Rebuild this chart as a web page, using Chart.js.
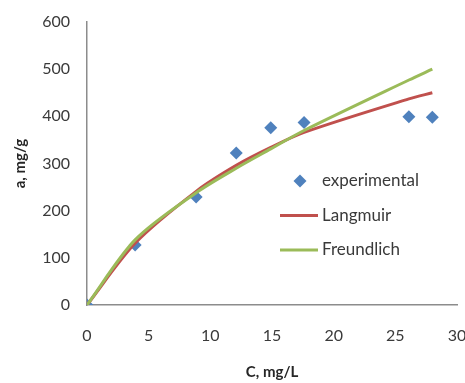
<!DOCTYPE html>
<html>
<head>
<meta charset="utf-8">
<script src="https://cdn.jsdelivr.net/npm/chart.js@4"></script>
<style>
  html, body { margin: 0; padding: 0; background: #fff; }
  #wrap { width: 465px; height: 383px; position: relative; }
</style>
</head>
<body>
<div id="wrap"><canvas id="chart"></canvas></div>
<script>
// concentration C, mg/L (x values)
const concentration = [0, 3.9, 8.85, 12.1, 14.9, 17.6, 26.1, 28.0];
const experimental = [0, 127, 229, 322, 376, 387, 399, 398];
const langmuir = [0, 131, 241, 296, 334, 366, 437, 450];
const freundlich = [0, 138, 238, 290, 331, 370, 477, 500];

const xTicks = [0, 5, 10, 15, 20, 25, 30];
const yTicks = [0, 100, 200, 300, 400, 500, 600];

const seriesNames = ['experimental', 'Langmuir', 'Freundlich'];
const colors = { experimental: '#4F81BD', Langmuir: '#C0504D', Freundlich: '#9BBB59' };

const toPoints = (ys) => concentration.map((c, i) => ({ x: c, y: ys[i] }));

const FONT = 'Lato, "Open Sans", sans-serif';

// legend sits inside the plot area, like the Excel original
const insideLegend = {
  id: 'insideLegend',
  afterDraw(chart) {
    const ctx = chart.ctx;
    const a = chart.chartArea;
    const x0 = a.left + 193, y0 = a.top + 159, gap = 34.5;
    ctx.save();
    ctx.font = '17px ' + FONT;
    ctx.textBaseline = 'middle';
    seriesNames.forEach((name, i) => {
      const y = y0 + i * gap;
      if (i === 0) {
        ctx.fillStyle = colors[name];
        ctx.beginPath();
        ctx.moveTo(x0 + 20, y - 6.5);
        ctx.lineTo(x0 + 26.5, y);
        ctx.lineTo(x0 + 20, y + 6.5);
        ctx.lineTo(x0 + 13.5, y);
        ctx.closePath();
        ctx.fill();
      } else {
        ctx.strokeStyle = colors[name];
        ctx.lineWidth = 3;
        ctx.beginPath();
        ctx.moveTo(x0, y);
        ctx.lineTo(x0 + 38, y);
        ctx.stroke();
      }
      ctx.fillStyle = '#3a3a3a';
      ctx.fillText(name, x0 + 42, y);
    });
    ctx.restore();
  }
};

new Chart(document.getElementById('chart'), {
  type: 'scatter',
  data: {
    datasets: [
      {
        label: 'experimental',
        data: toPoints(experimental),
        showLine: false,
        pointStyle: 'rectRot',
        pointRadius: 6.5,
        pointBackgroundColor: colors.experimental,
        pointBorderColor: colors.experimental,
        pointBorderWidth: 0,
        order: 2
      },
      {
        label: 'Langmuir',
        data: toPoints(langmuir),
        showLine: true,
        borderColor: colors.Langmuir,
        borderWidth: 3,
        pointRadius: 0,
        tension: 0.3,
        order: 1
      },
      {
        label: 'Freundlich',
        data: toPoints(freundlich),
        showLine: true,
        borderColor: colors.Freundlich,
        borderWidth: 3,
        pointRadius: 0,
        tension: 0.3,
        order: 0
      }
    ]
  },
  options: {
    responsive: true,
    maintainAspectRatio: false,
    animation: false,
    layout: { padding: { left: 0, right: 8, top: 22, bottom: 0 } },
    plugins: {
      legend: { display: false },
      tooltip: { enabled: false }
    },
    scales: {
      x: {
        type: 'linear',
        min: 0, max: 30,
        afterBuildTicks: (s) => { s.ticks = xTicks.map(v => ({ value: v })); },
        afterFit: (s) => { s.height = 78; s.paddingLeft = 0; s.paddingRight = 0; },
        grid: { display: false, drawTicks: false },
        border: { display: true, color: '#8c8c8c', width: 1.5 },
        ticks: { color: '#3a3a3a', font: { family: FONT, size: 16 }, padding: 21, maxRotation: 0 },
        title: { display: true, text: 'C, mg/L', color: '#262626', font: { family: FONT, size: 15, weight: 'bold' }, padding: { top: 0, bottom: 2 } }
      },
      y: {
        min: 0, max: 600,
        afterBuildTicks: (s) => { s.ticks = yTicks.map(v => ({ value: v })); },
        afterFit: (s) => { s.width = 87; s.paddingTop = 0; s.paddingBottom = 0; },
        grid: { display: false, drawTicks: false },
        border: { display: true, color: '#8c8c8c', width: 1.5 },
        ticks: { color: '#3a3a3a', font: { family: FONT, size: 16 }, padding: 17 },
        title: { display: true, text: 'a, mg/g', color: '#262626', font: { family: FONT, size: 15, weight: 'bold' }, padding: { top: 11, bottom: 0 } }
      }
    }
  },
  plugins: [insideLegend]
});
</script>
</body>
</html>
